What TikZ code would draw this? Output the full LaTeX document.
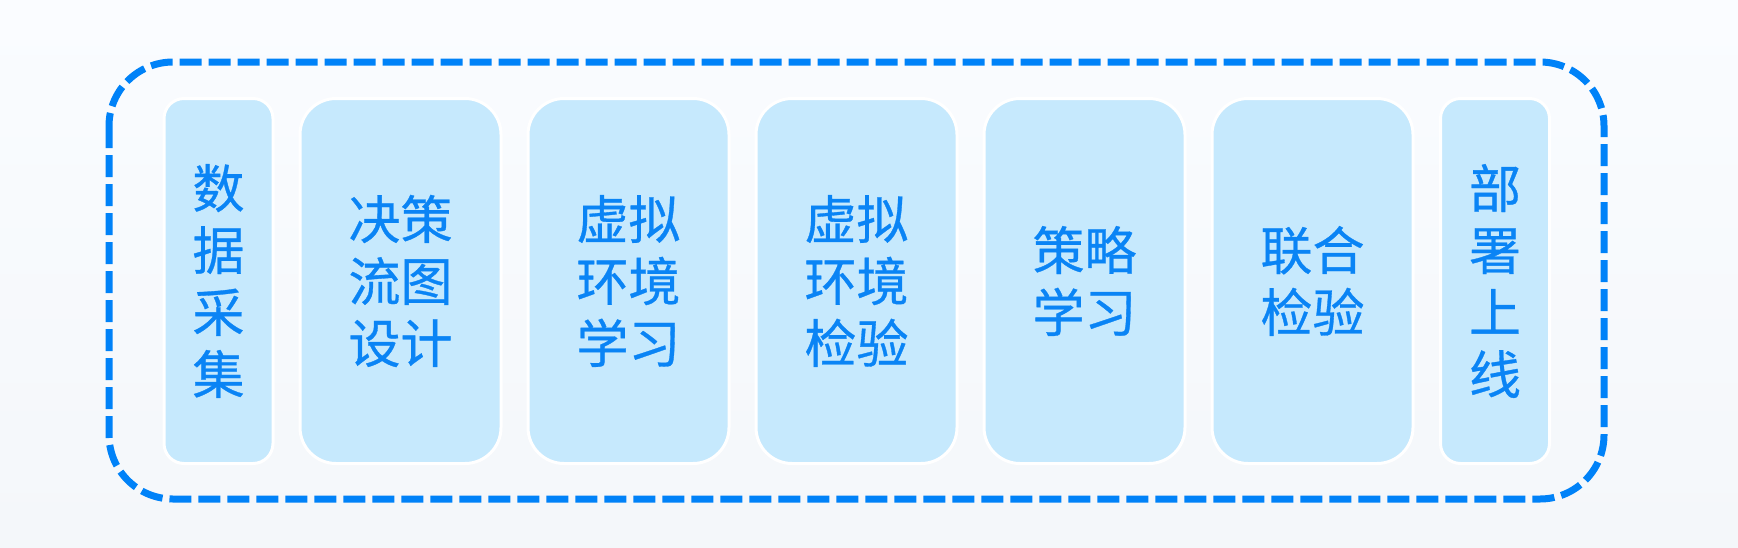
\documentclass[tikz,border=0pt]{standalone}
\usepackage{fontspec}
\newfontfamily\cjk[FakeBold=0.6]{Noto Sans CJK SC}
\definecolor{stageblue}{HTML}{0A84F5}
\definecolor{stagefill}{HTML}{C6E9FD}
\definecolor{framedash}{HTML}{0082F8}
\definecolor{bgtop}{HTML}{FAFCFF}
\definecolor{bgbottom}{HTML}{F4F7FA}
\tikzset{
  stage/.style={draw=white, line width=3pt, fill=stagefill, text=stageblue,
    rounded corners=36pt, minimum width=201pt, minimum height=365pt,
    align=center, inner sep=0pt, font=\cjk\fontsize{52}{62}\selectfont},
  narrowstage/.style={stage, minimum width=109pt, rounded corners=20pt}
}
\begin{document}
\begin{tikzpicture}[x=1pt,y=-1pt]
  % background
  \shade[top color=bgtop, bottom color=bgbottom] (0,0) rectangle (1738,547);
  \useasboundingbox (0,0) rectangle (1738,547);
  % dashed frame
  \draw[framedash, line width=7pt, dash pattern=on 22pt off 7pt, rounded corners=64pt]
    (109,62) rectangle (1604,499);
  % stages
  \node[narrowstage] (collect) at (218.5,281) {数\\据\\采\\集};
  \foreach \name/\x/\txt in {design/400.5/{决策\\流图\\设计},
                             envlearn/628.5/{虚拟\\环境\\学习},
                             envcheck/856.5/{虚拟\\环境\\检验},
                             policy/1084.5/{策略\\学习},
                             joint/1312.5/{联合\\检验}}
    \node[stage] (\name) at (\x,281) {\txt};
  \node[narrowstage] (deploy) at (1495,281) {部\\署\\上\\线};
\end{tikzpicture}
\end{document}
